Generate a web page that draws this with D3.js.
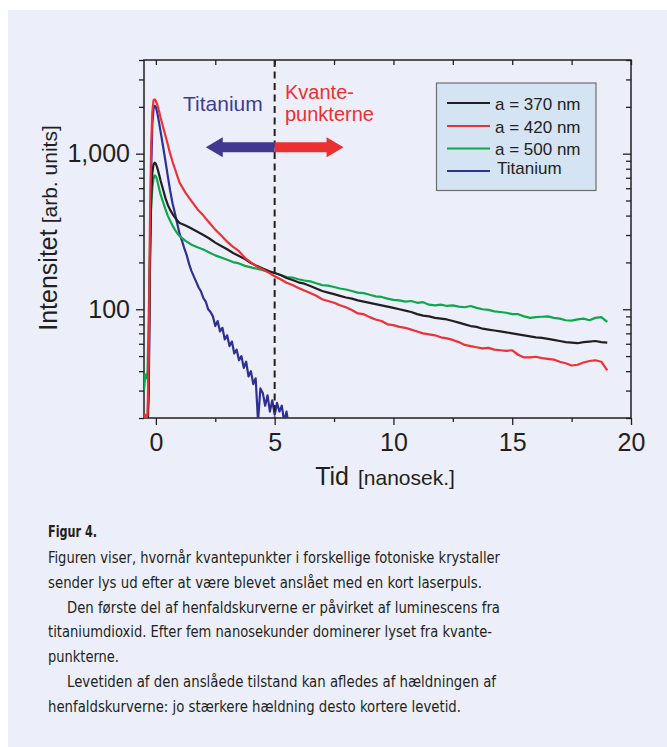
<!DOCTYPE html>
<html>
<head>
<meta charset="utf-8">
<script src="https://cdn.jsdelivr.net/npm/d3@7"></script>
<style>
body { margin: 0; background: #fff; }
svg { display: block; font-family: "Liberation Sans", Arial, Helvetica, sans-serif; }
</style>
</head>
<body>
<svg width="667" height="747"></svg>
<script>
// data (time in ns, intensity in arb. units)
const tid = [-0.5, -0.45, -0.4, -0.35, -0.3, -0.25, -0.2, -0.15, -0.1, -0.05, 0, 0.05, 0.1, 0.15, 0.2,
  0.3, 0.4, 0.5, 0.6, 0.7, 0.8, 0.9, 1.0,
  1.25, 1.5, 1.75, 2.0, 2.25, 2.5, 2.75, 3.0, 3.25, 3.5, 3.75, 4.0, 4.25, 4.5, 4.75, 5.0,
  5.25, 5.5, 5.75, 6.0, 6.25, 6.5, 6.75, 7.0, 7.25, 7.5, 7.75, 8.0, 8.25, 8.5, 8.75, 9.0,
  9.25, 9.5, 9.75, 10.0, 10.25, 10.5, 10.75, 11.0, 11.25, 11.5, 11.75, 12.0, 12.25, 12.5, 12.75, 13.0,
  13.25, 13.5, 13.75, 14.0, 14.25, 14.5, 14.75, 15.0, 15.25, 15.5, 15.75, 16.0, 16.25, 16.5, 16.75, 17.0,
  17.25, 17.5, 17.75, 18.0, 18.25, 18.5, 18.75, 19.0];

const a370 = [15, 15, 15, 18, 40, 200, 500, 750, 850, 875, 860, 820, 770, 720, 670,
  590, 520, 470, 435, 410, 390, 372, 358,
  345, 330, 315, 300, 285, 268, 255, 243, 230, 220, 210, 198, 190, 183, 176, 171,
  166, 159, 154, 149, 146, 141, 136, 131, 128, 125, 122, 119, 117, 114, 112, 110,
  108, 106, 104, 102, 100, 98, 96, 93, 91, 90, 88, 87, 86, 84, 82, 80,
  78, 77, 75, 74, 73, 72, 71, 70, 69, 68, 67, 66, 65.5, 64.5, 63.5, 62.5,
  61.5, 61, 60.5, 61.5, 62, 62.5, 61.5, 61];

const a420 = [20, 21, 20, 21, 50, 350, 1100, 1850, 2200, 2230, 2180, 2080, 1960, 1830, 1700,
  1490, 1310, 1150, 1000, 890, 800, 720, 650,
  560, 495, 440, 400, 360, 325, 298, 272, 252, 236, 214, 200, 188, 180, 172, 163,
  156, 148, 143, 137, 132, 127, 122, 116, 113, 110, 106, 103, 99, 94, 93, 89,
  86, 84, 80, 79, 77, 76, 74, 72, 70, 69, 68, 66, 65, 63.5, 61.5, 59,
  58, 57, 56, 56.5, 55, 54.5, 54, 54.5, 51, 49, 49, 49.5, 48.5, 48, 47.5, 46,
  45, 43.5, 44, 45.5, 46.5, 47, 46, 40.5];

const a500 = [30, 38, 36, 40, 90, 250, 450, 600, 690, 725, 715, 680, 630, 585, 545,
  490, 440, 400, 370, 345, 325, 308, 295,
  275, 260, 250, 242, 232, 222, 215, 208, 201, 197, 190, 186, 182, 178, 174, 171,
  166, 161, 160, 156, 153, 151, 147, 143, 142, 139, 136, 134, 131, 128, 127, 124,
  121, 120, 117, 115, 114, 112, 113, 110, 111, 107, 106, 107, 105, 106, 104, 103,
  105, 102, 100, 99, 97, 96, 95, 93, 93, 90, 88, 89, 89.5, 90, 88, 87,
  85, 84.5, 86, 87, 85, 88, 89, 83];

const tidTi = [-0.5, -0.45, -0.4, -0.35, -0.3, -0.25, -0.2, -0.15, -0.1, -0.05, 0, 0.05, 0.1, 0.15, 0.2,
  0.3, 0.4, 0.5, 0.6, 0.7, 0.8, 0.9, 1.0, 1.1, 1.2, 1.3, 1.4, 1.5, 1.6, 1.7, 1.8, 1.9, 2.0,
  2.1, 2.2, 2.3, 2.4, 2.5, 2.6, 2.7, 2.8, 2.9, 3.0, 3.1, 3.2, 3.3, 3.4, 3.5, 3.6, 3.7, 3.8, 3.9, 4.0,
  4.1, 4.2, 4.3, 4.4, 4.5, 4.6, 4.7, 4.8, 4.9, 5.0, 5.1, 5.2, 5.3, 5.4, 5.5, 5.6];

const titanium = [15, 15, 15, 17, 28, 180, 750, 1550, 1950, 2030, 1990, 1860, 1700, 1530, 1380,
  1120, 900, 720, 580, 480, 415, 355, 305, 275, 245, 222, 195, 176, 162, 150, 138, 130, 118,
  112, 100, 96, 90, 78, 84, 72, 76, 64, 68, 58, 62, 52, 55, 47, 50, 42, 46, 37, 40,
  33, 36, 19, 31, 29, 24, 28, 22, 26, 21, 25, 22, 24, 19, 22, 17];

const legendLabels = ["a = 370 nm", "a = 420 nm", "a = 500 nm", "Titanium"];
const seriesColors = ["#231f20", "#ee3134", "#10a64b", "#2e3192"];

const xMajor = [0, 5, 10, 15, 20];
const xMinor = [2.5, 7.5, 12.5, 17.5];
const yMajor = [100, 1000];
const yMinor = [20, 30, 40, 50, 60, 70, 80, 90, 200, 300, 400, 500, 600, 700, 800, 900, 2000, 3000, 4000];

const captionTitle = "Figur 4.";
const captionLines = [
  "Figuren viser, hvornår kvantepunkter i forskellige fotoniske krystaller",
  "sender lys ud efter at være blevet anslået med en kort laserpuls.",
  "Den første del af henfaldskurverne er påvirket af luminescens fra",
  "titaniumdioxid. Efter fem nanosekunder dominerer lyset fra kvante-",
  "punkterne.",
  "Levetiden af den anslåede tilstand kan afledes af hældningen af",
  "henfaldskurverne: jo stærkere hældning desto kortere levetid."
];
// layout of the caption lines: indent flag and measured line length (px)
const captionIndent = [0, 0, 1, 0, 0, 1, 0];
const captionWidth = [452, 434, 433, 444, 71, 429, 413];

const svg = d3.select('svg');
const ink = '#231f20';

// page panel
svg.append('rect').attr('x', 8).attr('y', 10).attr('width', 659).attr('height', 737).attr('fill', '#eceff9');

const pL = 144, pR = 631, pT = 60, pB = 418;
const x = d3.scaleLinear().domain([-0.5, 20]).range([pL, pR]);
const y = d3.scaleLog().domain([20, 4000]).range([pB, pT]);

svg.append('clipPath').attr('id', 'plot')
  .append('rect').attr('x', pL).attr('y', pT).attr('width', pR - pL).attr('height', pB - pT);

// axes
function styleAxis(g) {
  g.attr('font-family', null).attr('font-size', 25);
  g.select('.domain').remove();
  g.selectAll('line').attr('stroke', ink).attr('stroke-width', 1.3);
  g.selectAll('text').attr('fill', ink);
}
svg.append('g').attr('transform', `translate(0,${pB})`)
  .call(d3.axisBottom(x).tickValues(xMajor).tickSize(7).tickPadding(8).tickFormat(d3.format('d')))
  .call(styleAxis);
svg.append('g').attr('transform', `translate(0,${pB})`)
  .call(d3.axisBottom(x).tickValues(xMinor).tickSize(4).tickFormat(''))
  .call(styleAxis);
svg.append('g').attr('transform', `translate(0,${pT})`)
  .call(d3.axisBottom(x).tickValues(xMajor.concat(xMinor)).tickSize(5).tickFormat(''))
  .call(styleAxis);
svg.append('g').attr('transform', `translate(${pL},0)`)
  .call(d3.axisLeft(y).tickValues(yMajor).tickSize(8).tickPadding(6).tickFormat(d3.format(',')))
  .call(styleAxis);
svg.append('g').attr('transform', `translate(${pL},0)`)
  .call(d3.axisLeft(y).tickValues(yMinor).tickSize(5).tickFormat(''))
  .call(styleAxis);
svg.append('g').attr('transform', `translate(${pR},0)`)
  .call(d3.axisLeft(y).tickValues(yMajor).tickSize(8).tickFormat(''))
  .call(styleAxis);
svg.append('g').attr('transform', `translate(${pR},0)`)
  .call(d3.axisLeft(y).tickValues(yMinor).tickSize(5).tickFormat(''))
  .call(styleAxis);

svg.append('rect').attr('x', pL).attr('y', pT).attr('width', pR - pL).attr('height', pB - pT)
  .attr('fill', 'none').attr('stroke', ink).attr('stroke-width', 1.5);

// curves
const plot = svg.append('g').attr('clip-path', 'url(#plot)');
const series = [
  { t: tid, v: a370, c: seriesColors[0] },
  { t: tid, v: a420, c: seriesColors[1] },
  { t: tid, v: a500, c: seriesColors[2] },
  { t: tidTi, v: titanium, c: seriesColors[3] }
];
const line = d3.line().x(d => x(d[0])).y(d => y(d[1]));
// draw order: titanium and green under red and black
[3, 2, 0, 1].forEach(i => {
  const s = series[i];
  plot.append('path')
    .attr('d', line(s.t.map((t, j) => [t, s.v[j]])))
    .attr('fill', 'none')
    .attr('stroke', s.c)
    .attr('stroke-width', 2.2)
    .attr('stroke-linejoin', 'round');
});

// dashed line at 5 ns
svg.append('line')
  .attr('x1', x(5)).attr('x2', x(5)).attr('y1', pT).attr('y2', pB)
  .attr('stroke', ink).attr('stroke-width', 2).attr('stroke-dasharray', '7,4.5');

// double arrow
const ay = y(1100);
const shaft = 5, head = 10, headLen = 17;
const ax0 = x(2.1), ax1 = x(5), ax2 = x(7.9);
svg.append('path')
  .attr('d', `M${ax0},${ay} L${ax0 + headLen},${ay - head} L${ax0 + headLen},${ay - shaft} L${ax1},${ay - shaft} L${ax1},${ay + shaft} L${ax0 + headLen},${ay + shaft} L${ax0 + headLen},${ay + head} Z`)
  .attr('fill', '#43388f');
svg.append('path')
  .attr('d', `M${ax2},${ay} L${ax2 - headLen},${ay - head} L${ax2 - headLen},${ay - shaft} L${ax1},${ay - shaft} L${ax1},${ay + shaft} L${ax2 - headLen},${ay + shaft} L${ax2 - headLen},${ay + head} Z`)
  .attr('fill', '#ec2f30');

svg.append('text').attr('x', 183).attr('y', 110.5).attr('font-size', 21)
  .attr('fill', '#3a3d96').text('Titanium');
svg.append('text').attr('x', 285).attr('y', 98.5).attr('font-size', 20)
  .attr('fill', '#ec2f30').text('Kvante-');
svg.append('text').attr('x', 285).attr('y', 121).attr('font-size', 20)
  .attr('fill', '#ec2f30').text('punkterne');

// legend
svg.append('rect').attr('x', 436.5).attr('y', 83).attr('width', 159.5).attr('height', 107.5)
  .attr('fill', '#d4e4f3').attr('stroke', '#6d6e70').attr('stroke-width', 1.2);
const lineY = [103, 126, 148.5, 171];
const textY = [109.5, 132.5, 155, 173.5];
legendLabels.forEach((lab, i) => {
  svg.append('line').attr('x1', 447).attr('x2', 490).attr('y1', lineY[i]).attr('y2', lineY[i])
    .attr('stroke', seriesColors[i]).attr('stroke-width', 2.2);
  svg.append('text').attr('x', i === 3 ? 497 : 495).attr('y', textY[i]).attr('font-size', 17)
    .attr('fill', ink).text(lab);
});

// axis titles
const yt = svg.append('text').attr('transform', 'translate(57,228) rotate(-90)')
  .attr('text-anchor', 'middle').attr('fill', ink);
yt.append('tspan').attr('font-size', 25).text('Intensitet');
yt.append('tspan').attr('font-size', 21).attr('dx', 6).text('[arb. units]');

const xt = svg.append('text').attr('x', 385).attr('y', 485)
  .attr('text-anchor', 'middle').attr('fill', ink);
xt.append('tspan').attr('font-size', 25).text('Tid');
xt.append('tspan').attr('font-size', 21).attr('dx', 9).text('[nanosek.]');

// caption
const cap = svg.append('g')
  .attr('font-family', '"DejaVu Sans Condensed", "Liberation Sans", Arial, sans-serif')
  .attr('fill', ink);
cap.append('text').attr('x', 48).attr('y', 537).attr('font-size', 16).attr('font-weight', 'bold')
  .attr('textLength', 49).attr('lengthAdjust', 'spacingAndGlyphs').text(captionTitle);
captionLines.forEach((l, i) => {
  const x0 = captionIndent[i] ? 67 : 48;
  cap.append('text').attr('x', x0).attr('y', 563 + i * 24.8)
    .attr('font-size', 16.5)
    .attr('textLength', captionWidth[i]).attr('lengthAdjust', 'spacingAndGlyphs')
    .text(l);
});
</script>
</body>
</html>
